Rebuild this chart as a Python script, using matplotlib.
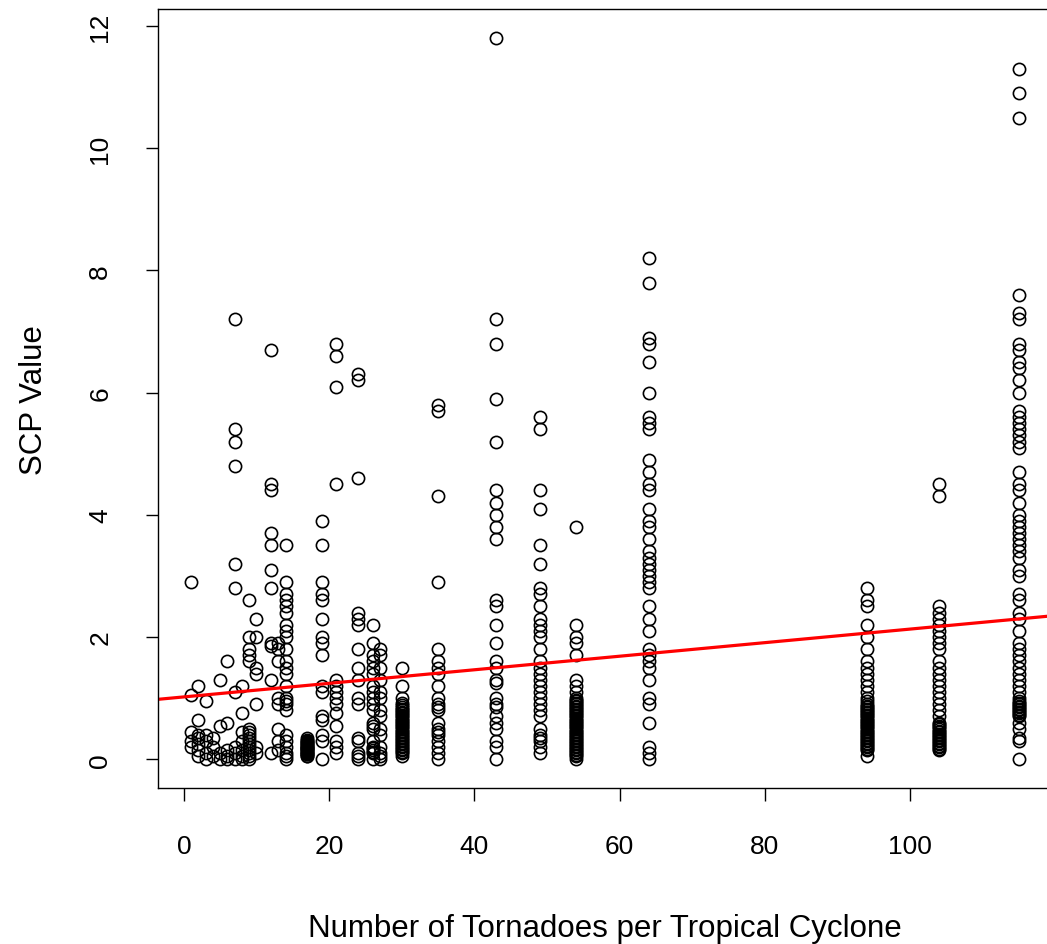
import numpy as np
import matplotlib.pyplot as plt

# tornado count per tropical cyclone -> SCP values
tornado_counts = [1, 2, 3, 4, 5, 6, 7, 8, 9, 10, 12, 13, 14, 17, 19, 21, 24,
                  26, 27, 30, 35, 43, 49, 54, 64, 94, 104, 115]

scp_1 = [2.9, 1.05, 0.45, 0.3, 0.2]
scp_2 = [1.2, 0.65, 0.4, 0.35, 0.25, 0.15, 0.05]
scp_3 = [0.95, 0.4, 0.3, 0.1, 0.0]
scp_4 = [0.35, 0.2, 0.05]
scp_5 = [1.3, 0.55, 0.1, 0.0]
scp_6 = [1.6, 0.6, 0.15, 0.05, 0.0]
scp_7 = [7.2, 5.4, 5.2, 4.8, 3.2, 2.8, 1.1, 0.2, 0.1, 0.0]
scp_8 = [1.2, 0.75, 0.45, 0.3, 0.15, 0.05, 0.0]
scp_9 = [2.6, 2.0, 1.8, 1.7, 1.6, 0.5, 0.45, 0.4, 0.35, 0.3, 0.25, 0.2,
         0.15, 0.1, 0.05, 0.0]
scp_10 = [2.3, 2.0, 1.5, 1.4, 0.9, 0.2, 0.1]
scp_12 = [6.7, 4.5, 4.4, 3.7, 3.5, 3.1, 2.8, 1.9, 1.85, 1.3, 0.1]
scp_13 = [1.9, 1.8, 1.6, 1.0, 0.9, 0.5, 0.3, 0.15]
scp_14 = [3.5, 2.9, 2.7, 2.6, 2.5, 2.4, 2.2, 2.1, 2.0, 1.8, 1.6, 1.5, 1.4,
          1.2, 1.0, 0.95, 0.9, 0.8, 0.4, 0.3, 0.2, 0.1, 0.05, 0.0]
scp_17 = [0.35, 0.32, 0.3, 0.28, 0.26, 0.25, 0.23, 0.22, 0.2, 0.19, 0.18,
          0.16, 0.15, 0.13, 0.12, 0.1, 0.09, 0.08, 0.06, 0.05]
scp_19 = [3.9, 3.5, 2.9, 2.7, 2.6, 2.3, 2.0, 1.9, 1.7, 1.2, 1.1, 0.7, 0.65,
          0.4, 0.3, 0.0]
scp_21 = [6.8, 6.6, 6.1, 4.5, 1.3, 1.2, 1.1, 1.0, 0.9, 0.75, 0.55, 0.3, 0.2, 0.1]
scp_24 = [6.3, 6.2, 4.6, 2.4, 2.3, 2.2, 1.8, 1.5, 1.3, 1.0, 0.9, 0.35, 0.3,
          0.1, 0.05, 0.0]
scp_26 = [2.2, 1.9, 1.7, 1.6, 1.5, 1.4, 1.2, 1.1, 1.0, 0.9, 0.8, 0.6, 0.55,
          0.5, 0.3, 0.2, 0.18, 0.15, 0.12, 0.1, 0.0]
scp_27 = [1.8, 1.7, 1.5, 1.3, 1.1, 1.0, 0.8, 0.7, 0.5, 0.4, 0.2, 0.1, 0.05, 0.0]
scp_30 = [1.5, 1.2, 1.0, 0.92, 0.88, 0.85, 0.82, 0.8, 0.77, 0.75, 0.72,
          0.7, 0.67, 0.65, 0.62, 0.6, 0.57, 0.55, 0.52, 0.5, 0.47, 0.45,
          0.42, 0.4, 0.37, 0.35, 0.32, 0.3, 0.27, 0.25, 0.22, 0.2, 0.17,
          0.15, 0.12, 0.1, 0.05]
scp_35 = [5.8, 5.7, 4.3, 2.9, 1.8, 1.6, 1.5, 1.4, 1.2, 1.0, 0.9, 0.85, 0.8,
          0.6, 0.5, 0.45, 0.4, 0.3, 0.2, 0.1, 0.0]
scp_43 = [11.8, 7.2, 6.8, 5.9, 5.2, 4.4, 4.2, 4.0, 3.8, 3.6, 2.6, 2.5, 2.2,
          1.9, 1.6, 1.5, 1.3, 1.25, 1.0, 0.9, 0.85, 0.7, 0.6, 0.5, 0.3, 0.2, 0.0]
scp_49 = [5.6, 5.4, 4.4, 4.1, 3.5, 3.2, 2.8, 2.7, 2.5, 2.3, 2.2, 2.1, 2.0,
          1.8, 1.6, 1.5, 1.4, 1.3, 1.2, 1.1, 1.0, 0.9, 0.8, 0.7, 0.5, 0.4,
          0.35, 0.3, 0.2, 0.1]
scp_54 = [3.8, 2.2, 2.0, 1.9, 1.7, 1.3, 1.2, 1.1, 1.0, 0.97, 0.95, 0.92,
          0.9, 0.87, 0.85, 0.82, 0.8, 0.77, 0.75, 0.72, 0.7, 0.67, 0.65,
          0.62, 0.6, 0.57, 0.55, 0.52, 0.5, 0.47, 0.45, 0.42, 0.4, 0.37,
          0.35, 0.32, 0.3, 0.27, 0.25, 0.22, 0.2, 0.17, 0.15, 0.12, 0.1,
          0.07, 0.05, 0.0]
scp_64 = [8.2, 7.8, 6.9, 6.8, 6.5, 6.0, 5.6, 5.5, 5.4, 4.9, 4.7, 4.5, 4.4,
          4.1, 3.9, 3.8, 3.6, 3.4, 3.3, 3.2, 3.1, 3.0, 2.9, 2.8, 2.5, 2.3,
          2.1, 1.8, 1.7, 1.6, 1.5, 1.3, 1.0, 0.9, 0.6, 0.2, 0.1, 0.0]
scp_94 = [2.8, 2.6, 2.5, 2.2, 2.0, 1.8, 1.6, 1.5, 1.4, 1.3, 1.2, 1.1, 1.0,
          0.95, 0.9, 0.87, 0.85, 0.82, 0.8, 0.77, 0.75, 0.72, 0.7, 0.67,
          0.65, 0.62, 0.6, 0.57, 0.55, 0.52, 0.5, 0.47, 0.45, 0.42, 0.4,
          0.37, 0.35, 0.32, 0.3, 0.27, 0.25, 0.22, 0.2, 0.17, 0.15, 0.05]
scp_104 = [4.5, 4.3, 2.5, 2.4, 2.3, 2.2, 2.1, 2.0, 1.9, 1.8, 1.6, 1.5, 1.4,
           1.3, 1.2, 1.1, 1.0, 0.9, 0.8, 0.7, 0.6, 0.57, 0.55, 0.52, 0.5,
           0.47, 0.45, 0.42, 0.4, 0.37, 0.35, 0.32, 0.3, 0.27, 0.25, 0.22,
           0.2, 0.17, 0.15]
scp_115 = [11.3, 10.9, 10.5, 7.6, 7.3, 7.2, 6.8, 6.7, 6.5, 6.4, 6.2, 6.0,
           5.7, 5.6, 5.5, 5.4, 5.3, 5.2, 5.1, 4.7, 4.5, 4.4, 4.2, 4.0, 3.9,
           3.8, 3.7, 3.6, 3.5, 3.4, 3.3, 3.1, 3.0, 2.7, 2.6, 2.4, 2.3, 2.1,
           1.9, 1.8, 1.7, 1.6, 1.5, 1.4, 1.3, 1.2, 1.1, 1.0, 0.95, 0.92,
           0.9, 0.87, 0.85, 0.82, 0.8, 0.77, 0.75, 0.72, 0.7, 0.6, 0.5,
           0.35, 0.3, 0.0]

scp_columns = [scp_1, scp_2, scp_3, scp_4, scp_5, scp_6, scp_7, scp_8, scp_9,
               scp_10, scp_12, scp_13, scp_14, scp_17, scp_19, scp_21, scp_24,
               scp_26, scp_27, scp_30, scp_35, scp_43, scp_49, scp_54, scp_64,
               scp_94, scp_104, scp_115]

# fitted line (intercept, slope)
fit_intercept = 1.02
fit_slope = 0.0111

x = np.concatenate([[n] * len(v) for n, v in zip(tornado_counts, scp_columns)])
y = np.concatenate(scp_columns)

plt.rcParams['font.family'] = ['Liberation Sans', 'DejaVu Sans']

fig = plt.figure(figsize=(10.47, 9.45), dpi=100)
ax = fig.add_axes([0.1509, 0.165, 0.854, 0.824])

ax.plot(x, y, linestyle='none', marker='o', markersize=8.8,
        markerfacecolor='none', markeredgecolor='black', markeredgewidth=1.2)

# R pads the data range by 4% on each side
xpad = 0.04 * (x.max() - x.min())
ypad = 0.04 * (y.max() - y.min())
xlim = (x.min() - xpad, x.max() + xpad)
ax.set_xlim(*xlim)
ax.set_ylim(y.min() - ypad, y.max() + ypad)

xx = np.array(xlim)
ax.plot(xx, fit_intercept + fit_slope * xx, color='red', linewidth=2.3)

ax.set_xticks(range(0, 101, 20))
ax.set_yticks(range(0, 13, 2))
ax.tick_params(axis='both', labelsize=19, length=9, width=1, color='black')
ax.tick_params(axis='x', pad=24)
ax.tick_params(axis='y', pad=24)
plt.setp(ax.get_yticklabels(), rotation=90, va='center')
for s in ax.spines.values():
    s.set_linewidth(1)

ax.set_xlabel("Number of Tornadoes per Tropical Cyclone", fontsize=22.5,
              labelpad=40)
ax.set_ylabel("SCP Value", fontsize=22.5, labelpad=28)

fig.savefig("out.png", dpi=100)
